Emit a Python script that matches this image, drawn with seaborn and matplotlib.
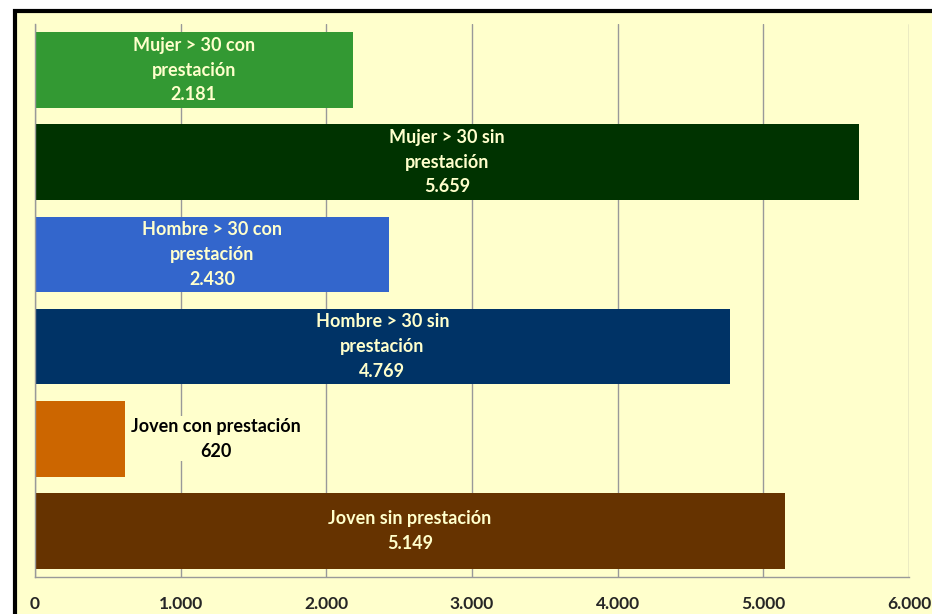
import matplotlib
matplotlib.use("Agg")
import matplotlib.pyplot as plt
import seaborn as sns
import pandas as pd
from matplotlib.patches import Rectangle

# -------------------- DATA --------------------
categorias = [
    "Mujer > 30 con prestación",
    "Mujer > 30 sin prestación",
    "Hombre > 30 con prestación",
    "Hombre > 30 sin prestación",
    "Joven con prestación",
    "Joven sin prestación",
]
valores = [2181, 5659, 2430, 4769, 620, 5149]
etiquetas = [
    "Mujer > 30 con\nprestación",
    "Mujer > 30 sin\nprestación",
    "Hombre > 30 con\nprestación",
    "Hombre > 30 sin\nprestación",
    "Joven con prestación",
    "Joven sin prestación",
]
colores = ["#339933", "#003300", "#3366CC", "#003366", "#CC6600", "#663300"]
ticks = [0, 1000, 2000, 3000, 4000, 5000, 6000]

df = pd.DataFrame({"cat": categorias, "val": valores})

def fmt(v):
    return f"{v:,}".replace(",", ".")

# -------------------- PLOT --------------------
sns.set_style("white")
plt.rcParams["font.family"] = ["Lato", "DejaVu Sans"]
plt.rcParams["font.weight"] = "bold"

fig = plt.figure(figsize=(9.32, 6.14), dpi=100, facecolor="white")
fondo = "#FFFFCC"
marco = Rectangle((14.5 / 932, -0.1), 1.2, 1 - 10.5 / 614 + 0.1,
                  transform=fig.transFigure, facecolor=fondo,
                  edgecolor="black", linewidth=3, zorder=-10)
fig.patches.append(marco)

ax = fig.add_axes([35 / 932, 1 - 577 / 614, 874 / 932, 553 / 614])
ax.set_zorder(5)
ax.patch.set_alpha(0)

sns.barplot(data=df, y="cat", x="val", hue="cat", palette=colores,
            orient="h", width=0.82, legend=False, ax=ax, saturation=1,
            linewidth=0)

ax.set_xlim(0, 6000)
ax.set_xticks(ticks)
ax.set_xticklabels([fmt(t) for t in ticks], fontsize=12.5, fontweight="bold")
ax.set_yticks([])
ax.set_xlabel("")
ax.set_ylabel("")
ax.set_axisbelow(True)
ax.xaxis.grid(True, color="#999999", linewidth=1)
ax.tick_params(axis="x", direction="inout", length=12, color="#999999", width=1, pad=8)
for s in ["top", "right"]:
    ax.spines[s].set_visible(False)
for s in ["left", "bottom"]:
    ax.spines[s].set_color("#999999")
    ax.spines[s].set_linewidth(1)

for i, (v, et) in enumerate(zip(valores, etiquetas)):
    texto = et + "\n" + fmt(v)
    if v < 1500:
        ax.text(v + 40, i, texto, ha="left", va="center", multialignment="center",
                fontsize=13, fontweight="bold", color="black", linespacing=1.55,
                bbox=dict(facecolor=fondo, edgecolor="none", pad=1))
    else:
        ax.text(v / 2, i, texto, ha="center", va="center", fontsize=13,
                fontweight="bold", color=fondo, linespacing=1.55)

plt.savefig("out.png", dpi=100, facecolor="white")
